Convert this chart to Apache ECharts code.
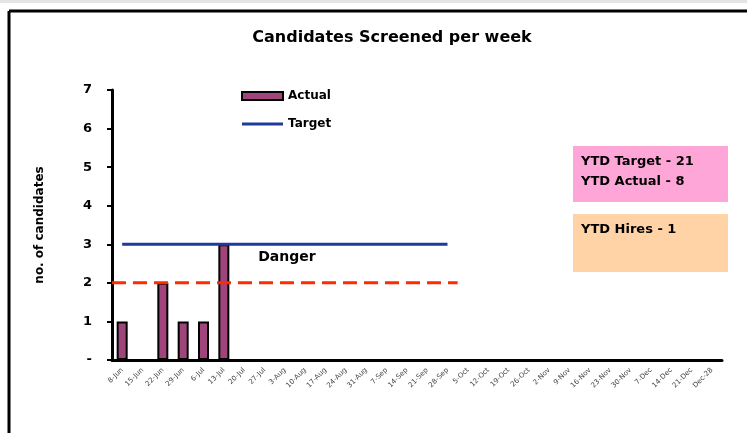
<!DOCTYPE html>
<html>
<head>
    <meta charset="utf-8">
    <title>Candidates Screened per week</title>
    <script src="https://cdn.jsdelivr.net/npm/echarts@6/dist/echarts.min.js"></script>
</head>
<body style="margin: 0; background: #fff">
    <div id="container" style="width: 747px; height: 433px"></div>
    <script>
        // week labels (30 weeks)
        var weeks = ['8-Jun', '15-Jun', '22-Jun', '29-Jun', '6-Jul', '13-Jul', '20-Jul', '27-Jul',
            '3-Aug', '10-Aug', '17-Aug', '24-Aug', '31-Aug', '7-Sep', '14-Sep', '21-Sep', '28-Sep',
            '5-Oct', '12-Oct', '19-Oct', '26-Oct', '2-Nov', '9-Nov', '16-Nov', '23-Nov', '30-Nov',
            '7-Dec', '14-Dec', '21-Dec', 'Dec-28'];
        var actual = [1, 0, 2, 1, 1, 3];
        var target = [3, 3, 3, 3, 3, 3, 3, 3, 3, 3, 3, 3, 3, 3, 3, 3, 3];
        // danger line: [x on week scale, value]
        var danger = [[0, 2], [17, 2]];
        var dangerLabel = [[8.6, 2.65]];
        var ytdText = ['YTD Target - 21', 'YTD Actual - 8'];
        var hiresText = ['YTD Hires - 1'];

        var FONT = 'DejaVu Sans';
        var myChart = echarts.init(document.getElementById('container'), null, { renderer: 'canvas' });

        var option = {
            animation: false,
            title: {
                text: 'Candidates Screened per week',
                left: 387, top: 25, textAlign: 'center',
                textStyle: { fontFamily: FONT, fontSize: 16, fontWeight: 'bold', color: '#000' }
            },
            legend: {
                orient: 'vertical',
                left: 236, top: 85,
                itemGap: 16,
                itemWidth: 41, itemHeight: 8,
                textStyle: { fontFamily: FONT, fontSize: 12, fontWeight: 'bold', color: '#000' },
                data: [
                    { name: 'Actual', icon: 'rect' },
                    { name: 'Target', icon: 'path://M0,0H40V3H0Z' }
                ]
            },
            grid: { left: 112, right: 25, top: 90, bottom: 73 },
            xAxis: [{
                type: 'category',
                data: weeks,
                boundaryGap: true,
                axisLine: { lineStyle: { color: '#000', width: 3 } },
                axisTick: { length: 5, lineStyle: { color: '#000', width: 2 } },
                axisLabel: {
                    interval: 0, rotate: 45, fontSize: 7, color: '#444',
                    fontFamily: FONT, margin: 9
                }
            }, {
                type: 'value', min: 0, max: 30, show: false
            }],
            yAxis: {
                type: 'value',
                min: 0, max: 7, interval: 1,
                name: 'no. of candidates',
                nameLocation: 'middle',
                nameGap: 66,
                nameTextStyle: { fontFamily: FONT, fontSize: 12, fontWeight: 'bold', color: '#000' },
                axisLine: { show: true, lineStyle: { color: '#000', width: 3 } },
                axisTick: { show: true, length: 5, lineStyle: { color: '#000', width: 2 } },
                splitLine: { show: false },
                axisLabel: {
                    fontFamily: FONT, fontSize: 13, fontWeight: 'bold', color: '#000', margin: 20,
                    formatter: function (v) { return v === 0 ? '-' : v; }
                }
            },
            series: [{
                name: 'Actual',
                type: 'bar',
                data: actual,
                barWidth: 11,
                itemStyle: { color: '#a0457c', borderColor: '#000', borderWidth: 2 }
            }, {
                name: 'Target',
                type: 'line',
                data: target,
                symbol: 'none',
                lineStyle: { color: '#1f3a9a', width: 3 },
                itemStyle: { color: '#1f3a9a' }
            }, {
                name: 'Danger',
                type: 'line',
                xAxisIndex: 1,
                data: danger,
                symbol: 'none',
                lineStyle: { color: '#ff2a00', width: 3, type: [14, 7] },
                z: 3
            }, {
                name: 'DangerLabel',
                type: 'scatter',
                xAxisIndex: 1,
                data: dangerLabel,
                symbolSize: 0,
                itemStyle: { opacity: 1 },
                label: {
                    show: true, position: 'inside',
                    formatter: 'Danger',
                    fontFamily: FONT, fontSize: 14, fontWeight: 'bold', color: '#000'
                }
            }],
            graphic: [
                // outer frame (top and left edges)
                { type: 'rect', shape: { x: 0, y: 0, width: 747, height: 3 }, style: { fill: '#e4e4e4' } },
                { type: 'line', shape: { x1: 9, y1: 11, x2: 747, y2: 11 }, style: { stroke: '#000', lineWidth: 3 } },
                { type: 'line', shape: { x1: 9, y1: 11, x2: 9, y2: 433 }, style: { stroke: '#000', lineWidth: 3 } },
                {
                    type: 'group', left: 573, top: 146,
                    children: [
                        { type: 'rect', shape: { x: 0, y: 0, width: 155, height: 56 }, style: { fill: '#ffa6d9' } },
                        {
                            type: 'text', left: 8, top: 6,
                            style: {
                                text: ytdText.join('\n'), fill: '#000', lineHeight: 20,
                                font: 'bold 13px "DejaVu Sans"'
                            }
                        }
                    ]
                },
                {
                    type: 'group', left: 573, top: 214,
                    children: [
                        { type: 'rect', shape: { x: 0, y: 0, width: 155, height: 58 }, style: { fill: '#ffd3a6' } },
                        {
                            type: 'text', left: 8, top: 6,
                            style: { text: hiresText.join('\n'), fill: '#000', lineHeight: 20, font: 'bold 13px "DejaVu Sans"' }
                        }
                    ]
                }
            ]
        };

        myChart.setOption(option);
        window.addEventListener('resize', myChart.resize);
    </script>
</body>
</html>
